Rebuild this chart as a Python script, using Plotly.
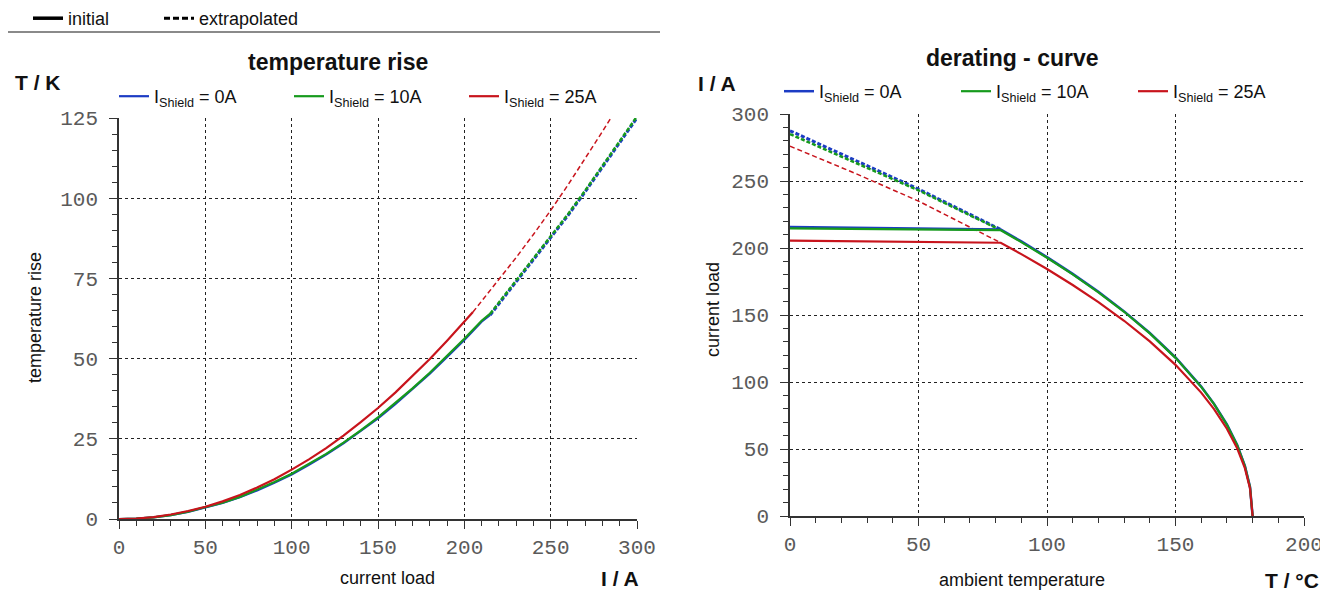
import plotly.graph_objects as go

# ---------------- data: temperature rise ----------------
I_blue_init = [0, 10, 20, 30, 40, 50, 60, 70, 80, 90, 100, 110, 120, 130, 140, 150, 160, 170, 180, 190, 200, 210, 215]
T_blue_init = [0, 0.1, 0.5, 1.2, 2.2, 3.5, 5.0, 6.8, 8.9, 11.3, 13.9, 16.9, 20.1, 23.6, 27.4, 31.4, 35.8, 40.4, 45.3, 50.5, 55.8, 61.5, 63.6]
I_green_init = [0, 10, 20, 30, 40, 50, 60, 70, 80, 90, 100, 110, 120, 130, 140, 150, 160, 170, 180, 190, 200, 210, 215]
T_green_init = [0, 0.1, 0.5, 1.2, 2.3, 3.6, 5.1, 6.9, 9.1, 11.5, 14.1, 17.1, 20.3, 23.8, 27.6, 31.7, 36.1, 40.7, 45.6, 50.8, 56.2, 61.8, 64.0]
I_red_init = [0, 10, 20, 30, 40, 50, 60, 70, 80, 90, 100, 110, 120, 130, 140, 150, 160, 170, 180, 190, 200, 205]
T_red_init = [0, 0.15, 0.6, 1.4, 2.5, 3.8, 5.5, 7.5, 9.8, 12.4, 15.4, 18.6, 22.1, 26.0, 30.2, 34.6, 39.4, 44.5, 49.9, 55.6, 61.5, 64.5]

I_blue_ext = [215, 230, 240, 250, 260, 270, 280, 290, 300]
T_blue_ext = [63.6, 73.9, 80.6, 87.5, 94.6, 102.0, 109.8, 117.6, 125.0]
I_green_ext = [215, 230, 240, 250, 260, 270, 280, 290, 300]
T_green_ext = [64.0, 74.4, 81.0, 87.9, 95.0, 102.4, 110.0, 117.8, 125.5]
I_red_ext = [205, 220, 230, 240, 250, 260, 270, 280, 290]
T_red_ext = [64.5, 74.5, 81.5, 88.7, 96.2, 104.1, 112.3, 120.8, 129.5]

# ---------------- data: derating curve ----------------
Ta_blue = [0, 82, 90, 100, 110, 120, 130, 140, 150, 160, 165, 170, 174, 177, 179, 180]
Id_blue = [215.7, 213.8, 204.9, 193.2, 180.7, 167.3, 152.7, 136.6, 118.3, 96.6, 83.7, 68.3, 52.9, 37.4, 21.6, 0]
Ta_green = [0, 82, 90, 100, 110, 120, 130, 140, 150, 160, 165, 170, 174, 177, 179, 180]
Id_green = [214.7, 213.3, 204.4, 192.7, 180.3, 166.9, 152.4, 136.3, 118.0, 96.4, 83.5, 68.1, 52.8, 37.3, 21.5, 0]
Ta_red = [0, 82, 90, 100, 110, 120, 130, 140, 150, 160, 165, 170, 174, 177, 179, 180]
Id_red = [205.5, 203.9, 195.4, 184.3, 172.4, 159.6, 145.7, 130.3, 112.8, 92.1, 79.8, 65.1, 50.5, 35.7, 20.6, 0]

Ta_ext = [0, 25, 50, 82]
Id_blue_ext = [287.5, 266, 244, 213.8]
Id_green_ext = [285, 264, 243, 213.3]
Id_red_ext = [276, 256, 235, 203.9]

labels = ["I<sub>Shield</sub> = 0A", "I<sub>Shield</sub> = 10A", "I<sub>Shield</sub> = 25A"]
BLUE, GREEN, RED = "#1c3cc4", "#169a1c", "#c8141c"

# page body has an 8px margin: figure is 1320x583 and offset by 8px
W, H, OFF = 1320, 583, 8
def px(xs):
    return (xs - OFF) / W
def py(ys):
    return 1 - (ys - OFF) / H

fig = go.Figure()

def add(x, y, color, width, dash, xa, ya, name=None, legend=None):
    fig.add_trace(go.Scatter(
        x=x, y=y, mode="lines", line=dict(color=color, width=width, dash=dash),
        xaxis=xa, yaxis=ya, name=name or "", showlegend=name is not None,
        legend=legend or "legend", hoverinfo="skip"))

# left chart
add(I_blue_ext, T_blue_ext, BLUE, 3, "4px,2px", "x", "y")
add(I_green_ext, T_green_ext, GREEN, 2.5, "4px,2px", "x", "y")
add(I_red_ext, T_red_ext, RED, 1.5, "5px,3px", "x", "y")
add(I_blue_init, T_blue_init, BLUE, 2.2, "solid", "x", "y", labels[0], "legend")
add(I_green_init, T_green_init, GREEN, 2.2, "solid", "x", "y", labels[1], "legend")
add(I_red_init, T_red_init, RED, 2.2, "solid", "x", "y", labels[2], "legend")

# right chart
add(Ta_ext, Id_blue_ext, BLUE, 3, "4px,2px", "x2", "y2")
add(Ta_ext, Id_green_ext, GREEN, 2.5, "4px,2px", "x2", "y2")
add(Ta_ext, Id_red_ext, RED, 1.5, "5px,3px", "x2", "y2")
add(Ta_blue, Id_blue, BLUE, 2.5, "solid", "x2", "y2", labels[0], "legend2")
add(Ta_green, Id_green, GREEN, 2.2, "solid", "x2", "y2", labels[1], "legend2")
add(Ta_red, Id_red, RED, 2.2, "solid", "x2", "y2", labels[2], "legend2")

# top legend (style key)
fig.add_trace(go.Scatter(x=[None], y=[None], mode="lines", line=dict(color="black", width=3.5),
                         name="initial", legend="legend3", xaxis="x", yaxis="y"))
fig.add_trace(go.Scatter(x=[None], y=[None], mode="lines", line=dict(color="black", width=3, dash="6px,3px"),
                         name="extrapolated", legend="legend3", xaxis="x", yaxis="y"))
fig.add_trace(go.Scatter(x=[None], y=[None], mode="lines", line=dict(color="rgba(0,0,0,0)", width=0),
                         name=" ", legend="legend3", xaxis="x", yaxis="y"))

tickfont = dict(family="Liberation Mono, monospace", size=21, color="#5a5a5a")
common = dict(
    showline=True, linecolor="#333333", linewidth=1.5,
    showgrid=True, gridcolor="#222222", griddash="dot", gridwidth=1,
    zeroline=False, ticks="outside", ticklen=8, tickcolor="#333333",
    tickfont=tickfont, fixedrange=True, automargin=False,
)
minor_c = dict(ticks="outside", ticklen=5, showgrid=False, tickcolor="#333333")
legfont = dict(size=18, color="#111111")

fig.update_layout(
    width=W, height=H,
    margin=dict(l=0, r=0, t=0, b=0, autoexpand=False),
    paper_bgcolor="white", plot_bgcolor="white",
    font=dict(family="Liberation Sans, Arial, sans-serif", color="#111111"),
    xaxis=dict(domain=[px(119), px(637)], range=[0, 300], dtick=50, anchor="y",
               minor=dict(dtick=10, **minor_c), **common),
    yaxis=dict(domain=[py(519), py(118)], range=[0, 125], dtick=25, anchor="x", ticklabelstandoff=7,
               minor=dict(dtick=5, **minor_c), **common),
    xaxis2=dict(domain=[px(790), px(1304)], range=[0, 200], dtick=50, anchor="y2",
                minor=dict(dtick=10, **minor_c), **common),
    yaxis2=dict(domain=[py(516), py(114)], range=[0, 300], dtick=50, anchor="x2", ticklabelstandoff=7,
                minor=dict(dtick=10, **minor_c), **common),
    legend=dict(orientation="h", x=px(120 - 6), y=py(78), xanchor="left", yanchor="top",
                entrywidth=130, font=legfont, bgcolor="rgba(0,0,0,0)", itemwidth=30, tracegroupgap=0),
    legend2=dict(orientation="h", x=px(785 - 6), y=py(73), xanchor="left", yanchor="top",
                 entrywidth=132, font=legfont, bgcolor="rgba(0,0,0,0)", itemwidth=30, tracegroupgap=0),
    legend3=dict(orientation="h", x=px(34 - 6), y=py(0), xanchor="left", yanchor="top",
                 entrywidth=86, font=legfont, bgcolor="rgba(0,0,0,0)", itemwidth=30, tracegroupgap=0),
    showlegend=True,
)

ann_font = dict(family="Liberation Sans, Arial, sans-serif", color="#111111")
annotations = [
    dict(text="<b>temperature rise</b>", x=px(338), y=py(62), font=dict(size=23, **ann_font)),
    dict(text="<b>derating - curve</b>", x=px(1012), y=py(58), font=dict(size=23, **ann_font)),
    dict(text="<b>T / K</b>", x=px(38), y=py(82), font=dict(size=21, **ann_font)),
    dict(text="<b>I / A</b>", x=px(717), y=py(83), font=dict(size=21, **ann_font)),
    dict(text="<b>I / A</b>", x=px(620), y=py(578), font=dict(size=21, **ann_font)),
    dict(text="<b>T / °C</b>", x=px(1292), y=py(580), font=dict(size=21, **ann_font)),
    dict(text="current load", x=px(387), y=py(578), font=dict(size=18, **ann_font)),
    dict(text="ambient temperature", x=px(1022), y=py(580), font=dict(size=18, **ann_font)),
    dict(text="temperature rise", x=px(35), y=py(318), textangle=-90, font=dict(size=18, **ann_font)),
    dict(text="current load", x=px(713), y=py(310), textangle=-90, font=dict(size=18, **ann_font)),
]
for a in annotations:
    fig.add_annotation(xref="paper", yref="paper", showarrow=False, xanchor="center", yanchor="middle", **a)

fig.add_shape(type="line", xref="paper", yref="paper", x0=px(0), x1=px(660), y0=py(32), y1=py(32),
              line=dict(color="#8a8a8a", width=2))

fig.write_html("out.html")
